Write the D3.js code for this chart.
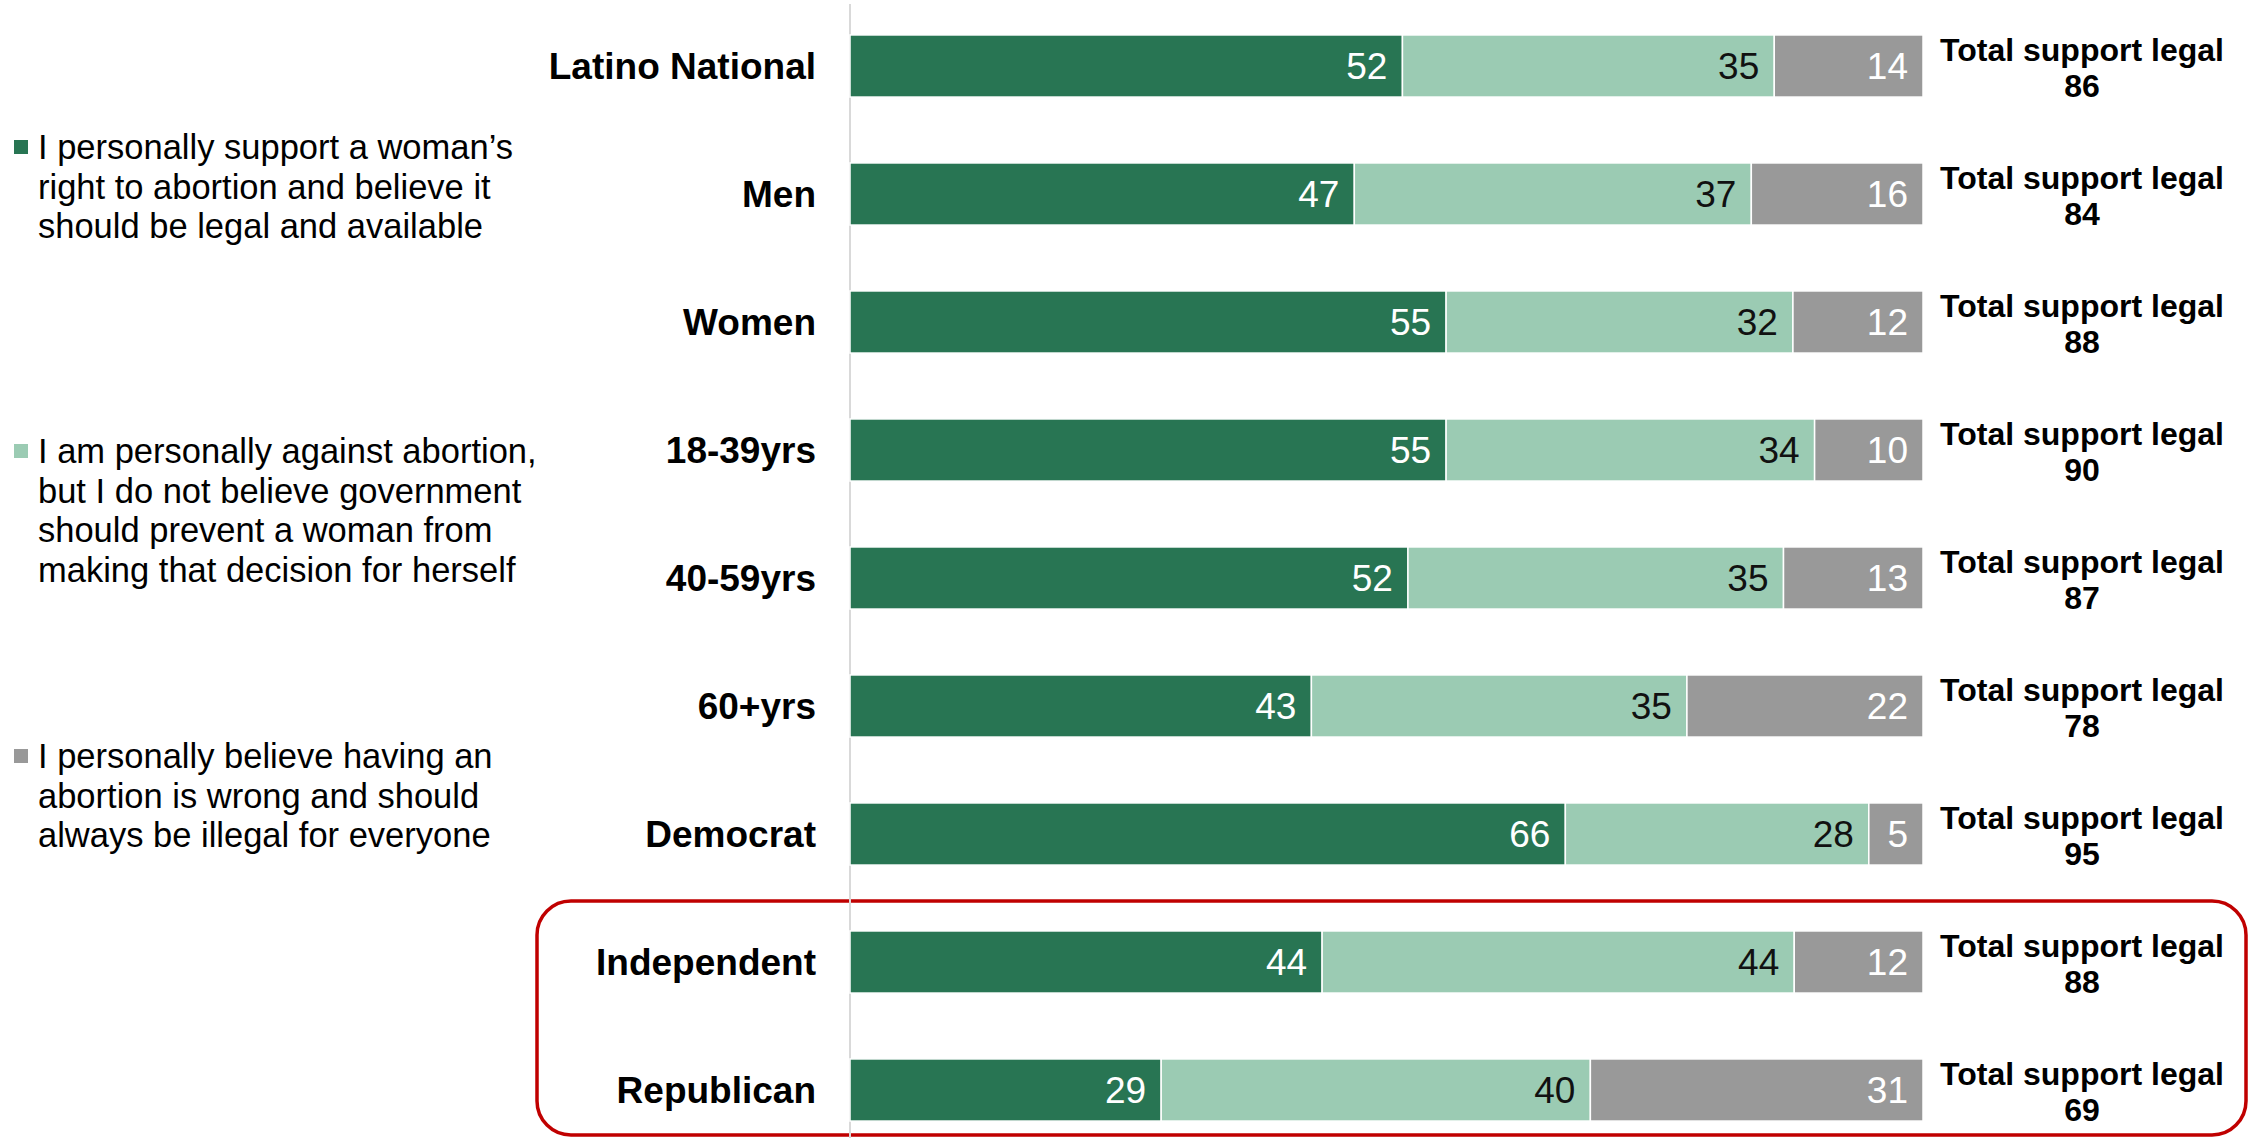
<!DOCTYPE html>
<html>
<head>
<meta charset="utf-8">
<script src="https://cdn.jsdelivr.net/npm/d3@7"></script>
<style>
  html, body { margin: 0; padding: 0; background: #fff; }
  svg { display: block; font-family: "Liberation Sans", Arial, sans-serif; }
</style>
</head>
<body>
<svg id="chart" width="2254" height="1138"></svg>
<script>
const categories = ["Latino National", "Men", "Women", "18-39yrs", "40-59yrs", "60+yrs", "Democrat", "Independent", "Republican"];
const supportLegal = [52, 47, 55, 55, 52, 43, 66, 44, 29];
const againstButLegal = [35, 37, 32, 34, 35, 35, 28, 44, 40];
const alwaysIllegal = [14, 16, 12, 10, 13, 22, 5, 12, 31];
const totalSupport = [86, 84, 88, 90, 87, 78, 95, 88, 69];
const seriesKeys = ["support", "against", "illegal"];
const seriesColors = ["#287553", "#9BCBB3", "#999999"];
const valueColors = ["#FFFFFF", "#111111", "#FFFFFF"];
const legendLines = [
  ["I personally support a woman\u2019s", "right to abortion and believe it", "should be legal and available"],
  ["I am personally against abortion,", "but I do not believe government", "should prevent a woman from", "making that decision for herself"],
  ["I personally believe having an", "abortion is wrong and should", "always be illegal for everyone"]
];
const totalLabel = "Total support legal";

const rows = categories.map((c, i) => ({
  category: c,
  support: supportLegal[i],
  against: againstButLegal[i],
  illegal: alwaysIllegal[i],
  total: totalSupport[i]
}));

const svg = d3.select("#chart");

const x = d3.scaleLinear().domain([0, 1]).range([850, 1923]);
const y = d3.scaleBand().domain(categories).range([2, 1154]).paddingInner(0.515).paddingOuter(0.2575);

const stack = d3.stack().keys(seriesKeys).offset(d3.stackOffsetExpand);
const stacked = stack(rows);

// highlight box
svg.append("rect")
  .attr("x", 537).attr("y", 901)
  .attr("width", 1709).attr("height", 234)
  .attr("rx", 34).attr("ry", 34)
  .attr("fill", "none")
  .attr("stroke", "#C00000")
  .attr("stroke-width", 3.5);

// axis line
svg.append("line")
  .attr("x1", 850).attr("x2", 850)
  .attr("y1", 4).attr("y2", 1138)
  .attr("stroke", "#D9D9D9").attr("stroke-width", 2);

const groups = svg.selectAll("g.series")
  .data(stacked)
  .join("g")
  .attr("class", "series");

groups.selectAll("rect")
  .data((s, si) => s.map(d => ({ d, si, key: s.key })))
  .join("rect")
  .attr("x", o => x(o.d[0]))
  .attr("y", o => y(o.d.data.category))
  .attr("width", o => x(o.d[1]) - x(o.d[0]))
  .attr("height", y.bandwidth())
  .attr("fill", o => seriesColors[o.si])
  .attr("stroke", "#FFFFFF")
  .attr("stroke-width", 1.5);

groups.selectAll("text")
  .data((s, si) => s.map(d => ({ d, si, key: s.key })))
  .join("text")
  .attr("x", o => x(o.d[1]) - 15)
  .attr("y", o => y(o.d.data.category) + y.bandwidth() / 2 + 13)
  .attr("text-anchor", "end")
  .attr("font-size", 37)
  .attr("fill", o => valueColors[o.si])
  .text(o => o.d.data[o.key]);

// category labels
svg.selectAll("text.cat")
  .data(rows)
  .join("text")
  .attr("class", "cat")
  .attr("x", 816)
  .attr("y", d => y(d.category) + y.bandwidth() / 2 + 13)
  .attr("text-anchor", "end")
  .attr("font-size", 37)
  .attr("font-weight", "bold")
  .attr("fill", "#000")
  .text(d => d.category);

// total labels
const tot = svg.selectAll("text.tot")
  .data(rows)
  .join("text")
  .attr("class", "tot")
  .attr("text-anchor", "middle")
  .attr("font-size", 32)
  .attr("font-weight", "bold")
  .attr("fill", "#000");
tot.append("tspan")
  .attr("x", 2082)
  .attr("y", d => y(d.category) + y.bandwidth() / 2 - 5)
  .text(totalLabel);
tot.append("tspan")
  .attr("x", 2082)
  .attr("y", d => y(d.category) + y.bandwidth() / 2 + 31)
  .text(d => d.total);

// legend
const legendTop = [159, 463, 768];
const leg = svg.selectAll("g.legend")
  .data(legendLines)
  .join("g")
  .attr("class", "legend");
leg.append("rect")
  .attr("x", 14)
  .attr("y", (d, i) => legendTop[i] - 19)
  .attr("width", 14).attr("height", 14)
  .attr("fill", (d, i) => seriesColors[i]);
leg.append("text")
  .attr("font-size", 34.5)
  .attr("fill", "#000")
  .selectAll("tspan")
  .data((d, i) => d.map((t, j) => ({ t, j, i })))
  .join("tspan")
  .attr("x", 38)
  .attr("y", o => legendTop[o.i] + o.j * 39.5)
  .text(o => o.t);
</script>
</body>
</html>
